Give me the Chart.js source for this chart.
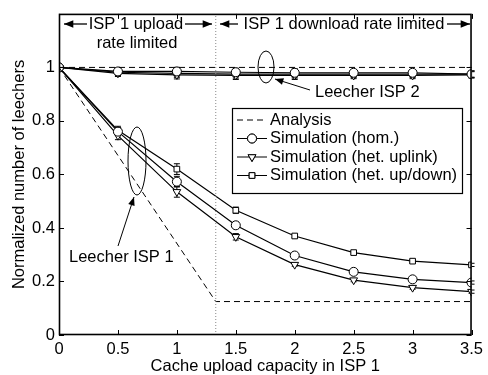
<!DOCTYPE html>
<html>
<head>
<meta charset="utf-8">
<script src="https://cdn.jsdelivr.net/npm/chart.js@4.4.0/dist/chart.umd.min.js"></script>
<style>
  html, body { margin: 0; padding: 0; background: #fff; }
  #wrap { width: 488px; height: 375px; }
</style>
</head>
<body>
<div id="wrap"><canvas id="leechers" width="488" height="375"></canvas></div>
<script>
// cache upload capacity in ISP 1 (x axis)
const capacity = [0, 0.5, 1, 1.5, 2, 2.5, 3, 3.5];

// leechers in ISP 1
const isp1Hom    = [1, 0.760, 0.573, 0.410, 0.297, 0.236, 0.208, 0.196];
const isp1Uplink = [1, 0.745, 0.535, 0.367, 0.263, 0.205, 0.177, 0.162];
const isp1UpDown = [1, 0.765, 0.620, 0.466, 0.370, 0.308, 0.276, 0.262];
const isp1Err    = [0, 0.015, 0.020, 0.012, 0.006, 0.006, 0.006, 0.006];

// leechers in ISP 2
const isp2Hom    = [1, 0.985, 0.985, 0.982, 0.980, 0.980, 0.980, 0.975];
const isp2Uplink = [1, 0.978, 0.972, 0.970, 0.970, 0.970, 0.970, 0.972];
const isp2UpDown = [1, 0.982, 0.978, 0.975, 0.975, 0.975, 0.975, 0.975];
const isp2Err    = [0, 0.012, 0.015, 0.015, 0.015, 0.012, 0.012, 0.012];

// analytical model
const analysisX    = [0, 1.33, 3.5];
const analysisIsp1 = [1, 0.125, 0.125];
const analysisIsp2 = [1, 1, 1];
const boundaryX = 1.33;

const yTicks = [0, 0.2, 0.4, 0.6, 0.8, 1];
const xTicks = capacity;

const FONT = '"Liberation Sans", Arial, sans-serif';
const FS = 16.5;

function pts(xs, ys) {
    return xs.map((x, i) => ({ x: x, y: ys[i] }));
}

function simSet(label, ys, err, style, rot, legend) {
    return {
        label: label,
        data: pts(capacity, ys),
        err: err,
        inLegend: legend,
        borderColor: '#000',
        borderWidth: 1.2,
        pointStyle: style,
        rotation: rot,
        pointRadius: style === 'rect' ? 4 : 4.5,
        pointBackgroundColor: '#fff',
        pointBorderColor: '#000',
        pointBorderWidth: 1,
        tension: 0
    };
}

const datasets = [
    {
        label: 'boundary',
        data: [{ x: boundaryX, y: 0 }, { x: boundaryX, y: 1.2 }],
        borderColor: '#888',
        borderWidth: 1,
        borderDash: [1, 2],
        pointRadius: 0
    },
    {
        label: 'Analysis',
        data: pts(analysisX, analysisIsp1),
        inLegend: true,
        borderColor: '#000',
        borderWidth: 1,
        borderDash: [6, 4],
        pointRadius: 0
    },
    {
        label: 'Analysis ISP 2',
        data: pts(analysisX, analysisIsp2),
        borderColor: '#000',
        borderWidth: 1,
        borderDash: [6, 4],
        pointRadius: 0
    },
    simSet('Simulation (hom.)', isp1Hom, isp1Err, 'circle', 0, true),
    simSet('Simulation (het. uplink)', isp1Uplink, isp1Err, 'triangle', 180, true),
    simSet('Simulation (het. up/down)', isp1UpDown, isp1Err, 'rect', 0, true),
    simSet('ISP2 hom', isp2Hom, isp2Err, 'circle', 0, false),
    simSet('ISP2 uplink', isp2Uplink, isp2Err, 'triangle', 180, false),
    simSet('ISP2 up/down', isp2UpDown, isp2Err, 'rect', 0, false)
];

// error bars under the markers
const errorBars = {
    id: 'errorBars',
    beforeDatasetsDraw(chart) {
        const ctx = chart.ctx;
        const ys = chart.scales.y;
        ctx.save();
        ctx.strokeStyle = '#000';
        ctx.lineWidth = 1;
        chart.data.datasets.forEach((ds, di) => {
            if (!ds.err) return;
            const meta = chart.getDatasetMeta(di);
            meta.data.forEach((el, i) => {
                const e = ds.err[i];
                if (!e) return;
                const v = ds.data[i].y;
                const x = el.x;
                const y1 = ys.getPixelForValue(v - e);
                const y2 = ys.getPixelForValue(v + e);
                ctx.beginPath();
                ctx.moveTo(x, y1); ctx.lineTo(x, y2);
                ctx.moveTo(x - 3, y1); ctx.lineTo(x + 3, y1);
                ctx.moveTo(x - 3, y2); ctx.lineTo(x + 3, y2);
                ctx.stroke();
            });
        });
        ctx.restore();
    }
};

function arrow(ctx, x1, y1, x2, y2, head) {
    const a = Math.atan2(y2 - y1, x2 - x1);
    ctx.beginPath();
    ctx.moveTo(x1, y1);
    ctx.lineTo(x2, y2);
    ctx.stroke();
    ctx.beginPath();
    ctx.moveTo(x2, y2);
    ctx.lineTo(x2 - head * Math.cos(a - 0.38), y2 - head * Math.sin(a - 0.38));
    ctx.lineTo(x2 - head * Math.cos(a + 0.38), y2 - head * Math.sin(a + 0.38));
    ctx.closePath();
    ctx.fill();
}

// box, inward ticks, annotations and legend
const decorations = {
    id: 'decorations',
    afterDraw(chart) {
        const ctx = chart.ctx;
        const a = chart.chartArea;
        const xs = chart.scales.x;
        const ys = chart.scales.y;
        ctx.save();
        ctx.strokeStyle = '#000';
        ctx.fillStyle = '#000';
        ctx.lineWidth = 1.6;
        ctx.strokeRect(a.left + 0.5, a.top + 0.5, a.right - a.left - 1, a.bottom - a.top - 1);

        ctx.lineWidth = 1;
        ctx.beginPath();
        xTicks.forEach(v => {
            const x = Math.round(xs.getPixelForValue(v)) + 0.5;
            ctx.moveTo(x, a.bottom); ctx.lineTo(x, a.bottom - 5);
            ctx.moveTo(x, a.top); ctx.lineTo(x, a.top + 5);
        });
        yTicks.forEach(v => {
            const y = Math.round(ys.getPixelForValue(v)) + 0.5;
            ctx.moveTo(a.left, y); ctx.lineTo(a.left + 5, y);
            ctx.moveTo(a.right, y); ctx.lineTo(a.right - 5, y);
        });
        ctx.stroke();

        ctx.font = FS + 'px ' + FONT;
        ctx.textBaseline = 'middle';

        // regime headers
        ctx.lineWidth = 1.3;
        arrow(ctx, 87, 24, 64, 24, 10);
        arrow(ctx, 185, 24, 212, 24, 10);
        ctx.textAlign = 'center';
        ctx.fillText('ISP 1 upload', 136, 24);
        ctx.fillText('rate limited', 137, 43);
        arrow(ctx, 238, 24, 220, 24, 10);
        arrow(ctx, 447, 24, 470, 24, 10);
        ctx.fillText('ISP 1 download rate limited', 344, 24);

        // leecher group labels
        ctx.lineWidth = 1;
        ctx.beginPath();
        ctx.ellipse(266, 67, 8, 16, 0, 0, Math.PI * 2);
        ctx.stroke();
        arrow(ctx, 310, 90, 275, 79, 9);
        ctx.textAlign = 'left';
        ctx.fillText('Leecher ISP 2', 315, 92);

        ctx.beginPath();
        ctx.ellipse(137, 161, 9, 34, 0, 0, Math.PI * 2);
        ctx.stroke();
        arrow(ctx, 118, 246, 134, 197, 9);
        ctx.fillText('Leecher ISP 1', 69, 257);

        // legend
        const bx = 232, by = 108, bw = 230, bh = 85;
        ctx.fillStyle = '#fff';
        ctx.fillRect(bx, by, bw, bh);
        ctx.lineWidth = 1.2;
        ctx.strokeRect(bx + 0.5, by + 0.5, bw, bh);
        ctx.fillStyle = '#000';
        ctx.lineWidth = 1;
        const items = chart.data.datasets.filter(d => d.inLegend);
        items.forEach((d, i) => {
            const y = by + 12 + i * 18.5;
            ctx.save();
            ctx.setLineDash(d.borderDash || []);
            ctx.beginPath();
            ctx.moveTo(237, y); ctx.lineTo(267, y);
            ctx.stroke();
            ctx.restore();
            if (d.pointStyle) {
                ctx.save();
                ctx.fillStyle = '#fff';
                Chart.helpers.drawPoint(ctx, {
                    pointStyle: d.pointStyle,
                    rotation: d.rotation,
                    radius: d.pointRadius,
                    borderWidth: 1
                }, 252, y);
                ctx.fill();
                ctx.stroke();
                ctx.restore();
            }
            ctx.fillText(d.label, 270, y);
        });
        ctx.restore();
    }
};

new Chart(document.getElementById('leechers'), {
    type: 'line',
    data: { datasets: datasets },
    plugins: [errorBars, decorations],
    options: {
        responsive: false,
        animation: false,
        layout: { padding: { top: 7, right: 14, left: 0, bottom: 0 } },
        plugins: {
            legend: { display: false },
            tooltip: { enabled: false }
        },
        scales: {
            x: {
                type: 'linear',
                min: 0,
                max: 3.5,
                afterBuildTicks: s => { s.ticks = xTicks.map(v => ({ value: v })); },
                afterFit: s => { s.height = 40; },
                grid: { display: false, drawTicks: false },
                border: { display: false },
                ticks: {
                    padding: 5,
                    color: '#000',
                    maxRotation: 0,
                    font: { family: FONT, size: FS },
                    callback: v => String(v)
                },
                title: {
                    display: true,
                    text: 'Cache upload capacity in ISP 1',
                    color: '#000',
                    padding: { top: 0, bottom: -1 },
                    font: { family: FONT, size: FS }
                }
            },
            y: {
                type: 'linear',
                min: 0,
                max: 1.2,
                afterBuildTicks: s => { s.ticks = yTicks.map(v => ({ value: v })); },
                afterFit: s => { s.width = 59; },
                grid: { display: false, drawTicks: false },
                border: { display: false },
                ticks: {
                    padding: 4,
                    color: '#000',
                    font: { family: FONT, size: FS },
                    callback: v => String(Math.round(v * 10) / 10)
                },
                title: {
                    display: true,
                    text: 'Normalized number of leechers',
                    color: '#000',
                    padding: { top: 10, bottom: 0 },
                    font: { family: FONT, size: FS }
                }
            }
        }
    }
});
</script>
</body>
</html>
